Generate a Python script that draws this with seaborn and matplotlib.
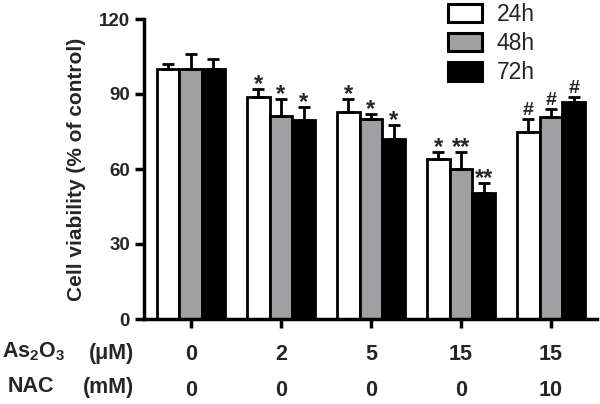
import matplotlib
matplotlib.use("Agg")
import matplotlib.pyplot as plt
import seaborn as sns
import pandas as pd
import numpy as np
from matplotlib.patches import Patch

# ---- data ----
conditions = ["0/0", "2/0", "5/0", "15/0", "15/10"]
as2o3_labels = ["0", "2", "5", "15", "15"]
nac_labels = ["0", "0", "0", "0", "10"]
times = ["24h", "48h", "72h"]
mean_24h = [100, 88.9, 82.9, 63.9, 74.7]
mean_48h = [100, 81.3, 80.0, 60.0, 80.7]
mean_72h = [100, 79.6, 72.0, 50.3, 86.9]
err_24h = [1.9, 3.0, 5.0, 2.8, 5.3]
err_48h = [5.9, 6.6, 1.9, 6.7, 3.2]
err_72h = [3.9, 5.2, 5.6, 4.2, 2.0]
mark_24h = ["", "*", "*", "*", "#"]
mark_48h = ["", "*", "*", "**", "#"]
mark_72h = ["", "*", "*", "**", "#"]
colors = ["white", "#a0a0a2", "black"]
y_ticks = [0, 30, 60, 90, 120]

means = [mean_24h, mean_48h, mean_72h]
errs = [err_24h, err_48h, err_72h]
marks = [mark_24h, mark_48h, mark_72h]

df = pd.DataFrame({
    "cond": np.tile(conditions, 3),
    "time": np.repeat(times, len(conditions)),
    "value": np.concatenate(means),
})

sns.set_style("white")
plt.rcParams["font.family"] = ["Liberation Sans", "DejaVu Sans"]
plt.rcParams["mathtext.fontset"] = "custom"
plt.rcParams["mathtext.rm"] = "Liberation Sans:bold"
plt.rcParams["mathtext.default"] = "rm"

fig = plt.figure(figsize=(6.0, 4.04), dpi=100)
ax = fig.add_axes([144 / 600, 1 - 319 / 404, (597 - 144) / 600, 300 / 404])

sns.barplot(data=df, x="cond", y="value", hue="time", order=conditions,
            hue_order=times, palette=colors, width=0.755, gap=0,
            errorbar=None, edgecolor="black", linewidth=2, ax=ax,
            legend=False, saturation=1)

# error bars and significance marks
bars = [p for p in ax.patches]
for bar in bars:
    xc = bar.get_x() + bar.get_width() / 2
    top = bar.get_height()
    ci = int(round(xc))
    hi = int(np.argmin([abs((xc - ci) - off) for off in (-0.755 / 3, 0, 0.755 / 3)]))
    e = errs[hi][ci]
    ax.errorbar([xc], [top], yerr=[[0], [e]], fmt="none", ecolor="black",
                elinewidth=2, capsize=4.5, capthick=2, zorder=1)
    m = marks[hi][ci]
    if m:
        if "*" in m:
            ax.annotate(m, (xc, top + e), xytext=(0, -5),
                        textcoords="offset points", ha="center", va="bottom",
                        fontsize=17, fontweight="bold")
        else:
            ax.annotate(m, (xc, top + e), xytext=(0, 0),
                        textcoords="offset points", ha="center", va="bottom",
                        fontsize=14, fontweight="bold")

ax.set_xlim(-0.52, 4.51)
ax.set_ylim(0, 120)
ax.set_yticks(y_ticks)
ax.set_yticklabels([str(t) for t in y_ticks])
ax.set_xticks(range(len(conditions)))
ax.set_xticklabels([""] * len(conditions))
ax.set_xlabel("")
ax.set_ylabel("Cell viability (% of control)", fontsize=15, fontweight="bold", labelpad=9)
for s in ["top", "right"]:
    ax.spines[s].set_visible(False)
for s in ["left", "bottom"]:
    ax.spines[s].set_linewidth(2.5)
    ax.spines[s].set_color("black")
ax.tick_params(axis="both", direction="out", length=6.5, width=2.5, color="black",
               labelsize=13.5, left=True, bottom=True)
for lab in ax.get_yticklabels():
    lab.set_fontweight("bold")

# condition rows below the axis
trans = ax.get_xaxis_transform()
for i, lab in enumerate(as2o3_labels):
    ax.text(i, -(354 - 319) / 300, lab, transform=trans, ha="center", va="center",
            fontsize=15.5, fontweight="bold")
for i, lab in enumerate(nac_labels):
    ax.text(i, -(390 - 319) / 300, lab, transform=trans, ha="center", va="center",
            fontsize=15.5, fontweight="bold")

fig.text(2 / 600, 1 - 352 / 404, r"As$_{2}$O$_{3}$", ha="left", va="center",
         fontsize=15.5, fontweight="bold")
fig.text(134 / 600, 1 - 353 / 404, "(μM)", ha="right", va="center",
         fontsize=15.5, fontweight="bold")
fig.text(8 / 600, 1 - 387 / 404, "NAC", ha="left", va="center",
         fontsize=15.5, fontweight="bold")
fig.text(134 / 600, 1 - 388 / 404, "(mM)", ha="right", va="center",
         fontsize=15.5, fontweight="bold")

handles = [Patch(facecolor=c, edgecolor="black", linewidth=2.2) for c in colors]
fig.legend(handles, times, loc="upper left", bbox_to_anchor=(448 / 600, 1 - 3 / 404),
           frameon=False, fontsize=16.5, handlelength=1.48, handleheight=0.85,
           labelspacing=0.27, handletextpad=0.65, borderpad=0, borderaxespad=0)

fig.savefig("out.png", dpi=100)
